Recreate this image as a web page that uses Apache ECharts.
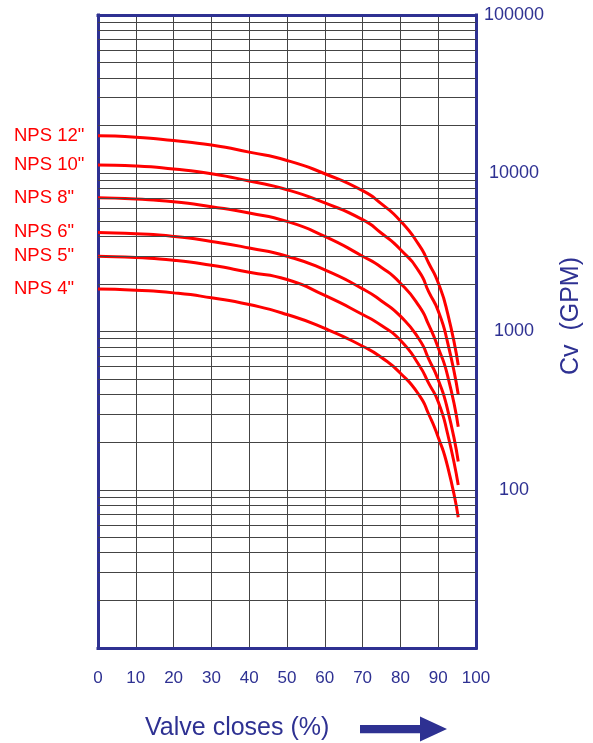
<!DOCTYPE html>
<html>
<head>
<meta charset="utf-8">
<script src="https://cdn.jsdelivr.net/npm/echarts@6/dist/echarts.min.js"></script>
<style>
html, body { margin: 0; padding: 0; background: #fff; }
#cvChart { width: 593px; height: 743px; }
</style>
</head>
<body>
<div id="cvChart"></div>
<script>
// valve closing (%) where the curves were read
var closePct = [0, 10, 20, 30, 40, 50, 60, 70, 75, 80, 85, 87.5, 90, 92.5, 95.3];

// Cv (GPM) per valve size
var nps12 = [17250, 16900, 16100, 15070, 13600, 12050, 9930, 7760, 6400, 5000, 3500, 2700, 2030, 1300, 612];
var nps10 = [11270, 11100, 10630, 9930, 8930, 7870, 6490, 5090, 4180, 3300, 2380, 1780, 1350, 850, 400];
var nps8 = [7000, 6870, 6610, 6150, 5610, 4960, 3990, 2990, 2540, 2020, 1440, 1100, 790, 525, 250];
var nps6 = [4230, 4150, 3990, 3710, 3370, 2990, 2450, 1860, 1560, 1250, 890, 670, 495, 320, 151];
var nps5 = [2990, 2930, 2820, 2620, 2370, 2130, 1690, 1280, 1090, 880, 610, 470, 360, 225, 107];
var nps4 = [1857, 1823, 1754, 1633, 1480, 1280, 1045, 807, 685, 545, 395, 300, 215, 140, 67];

var sizeNames = ['NPS 12"', 'NPS 10"', 'NPS 8"', 'NPS 6"', 'NPS 5"', 'NPS 4"'];

// log grid lines between the decades
var minorCv = [20, 30, 40, 50, 60, 70, 80, 90,
    200, 300, 400, 500, 600, 700, 800, 900,
    2000, 3000, 4000, 5000, 6000, 7000, 8000, 9000,
    20000, 30000, 40000, 50000, 60000, 70000, 80000, 90000];

var navy = '#2e3192';
var gridColor = '#444';
var font = 'Liberation Sans, Arial, sans-serif';

var curves = [nps12, nps10, nps8, nps6, nps5, nps4];
var series = [];

series.push({
    type: 'line',
    data: [],
    silent: true,
    z: 1,
    markLine: {
        silent: true,
        symbol: 'none',
        animation: false,
        label: {show: false},
        lineStyle: {color: gridColor, width: 1, type: 'solid'},
        data: minorCv.map(function (v) { return {yAxis: v}; })
    }
});

for (var i = 0; i < curves.length; i++) {
    var pts = [];
    for (var j = 0; j < closePct.length; j++) {
        pts.push([closePct[j], curves[i][j]]);
    }
    // name written at the start of each curve
    pts[0] = {
        value: pts[0],
        symbol: 'circle',
        symbolSize: 0,
        label: {show: true, formatter: sizeNames[i]}
    };
    series.push({
        name: sizeNames[i],
        type: 'line',
        smooth: 0.6,
        symbol: 'none',
        z: 3,
        lineStyle: {color: '#ff0000', width: 3},
        itemStyle: {color: '#ff0000'},
        label: {
            show: false,
            position: 'left',
            distance: 84,
            align: 'left',
            color: '#ff0000',
            fontSize: 18.5,
            fontFamily: font
        },
        data: pts
    });
}

var option = {
    animation: false,
    grid: {left: 98, right: 117, top: 15, bottom: 95},
    xAxis: [
        {
            type: 'value',
            min: 0,
            max: 100,
            interval: 10,
            axisLine: {onZero: false, lineStyle: {color: navy, width: 3, cap: 'square'}},
            axisTick: {show: false},
            axisLabel: {color: navy, fontSize: 17, margin: 22, fontFamily: font},
            splitLine: {show: true, lineStyle: {color: gridColor, width: 1}}
        },
        {
            type: 'value',
            position: 'top',
            min: 0,
            max: 100,
            axisLine: {show: true, onZero: false, lineStyle: {color: navy, width: 3, cap: 'square'}},
            axisTick: {show: false},
            axisLabel: {show: false},
            splitLine: {show: false}
        }
    ],
    yAxis: [
        {
            type: 'log',
            logBase: 10,
            min: 10,
            max: 100000,
            position: 'right',
            axisLine: {show: true, onZero: false, lineStyle: {color: navy, width: 3, cap: 'square'}},
            axisTick: {show: false},
            axisLabel: {
                color: navy,
                fontSize: 18,
                margin: 38,
                align: 'center',
                fontFamily: font,
                formatter: function (v) { return v === 10 ? '' : String(v); }
            },
            splitLine: {show: true, lineStyle: {color: gridColor, width: 1}}
        },
        {
            type: 'value',
            position: 'left',
            min: 0,
            max: 1,
            axisLine: {show: true, onZero: false, lineStyle: {color: navy, width: 3, cap: 'square'}},
            axisTick: {show: false},
            axisLabel: {show: false},
            splitLine: {show: false}
        }
    ],
    graphic: [
        {
            type: 'text',
            x: 145,
            y: 728,
            style: {text: 'Valve closes (%)', fill: navy, font: '25px ' + font, align: 'left', verticalAlign: 'middle'}
        },
        {
            type: 'polygon',
            shape: {points: [[360, 725], [420, 725], [420, 716.5], [447, 729], [420, 741.5], [420, 733.3], [360, 733.3]]},
            style: {fill: navy}
        },
        {
            type: 'text',
            x: 571,
            y: 316,
            rotation: Math.PI / 2,
            style: {text: 'Cv  (GPM)', fill: navy, font: '25px ' + font, align: 'center', verticalAlign: 'middle'}
        }
    ],
    series: series
};

var myChart = echarts.init(document.getElementById('cvChart'));
myChart.setOption(option);
</script>
</body>
</html>
